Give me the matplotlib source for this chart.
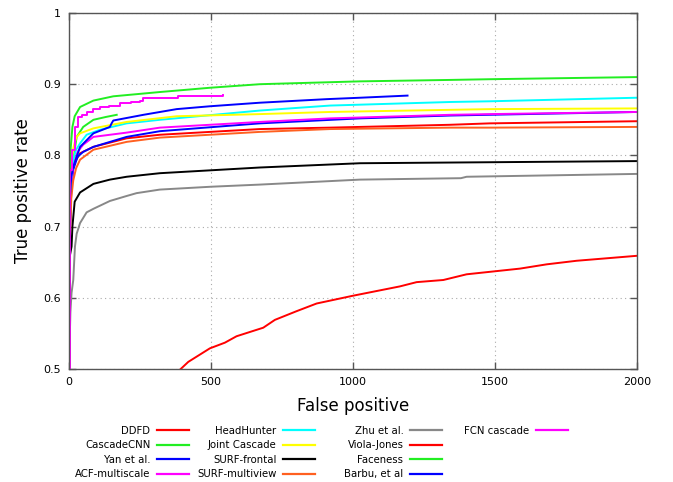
import matplotlib
matplotlib.use("Agg")
import matplotlib.pyplot as plt
from matplotlib.lines import Line2D

# ROC-style curves (false positives vs true positive rate)
ddfd_fp = [0, 2, 5, 10, 20, 39, 86, 203, 320, 672, 919, 1342, 1482, 2000]
ddfd_tpr = [0.5, 0.65, 0.74, 0.775, 0.79, 0.803, 0.812, 0.824, 0.829, 0.837, 0.839, 0.843, 0.845, 0.848]

cascadecnn_fp = [0, 3, 8, 15, 27, 50, 86, 130, 168]
cascadecnn_tpr = [0.5, 0.70, 0.77, 0.794, 0.826, 0.840, 0.850, 0.854, 0.857]

yan_fp = [0, 3, 8, 15, 30, 50, 86, 203, 320, 672, 1025, 1342, 2000]
yan_tpr = [0.5, 0.68, 0.75, 0.78, 0.798, 0.805, 0.812, 0.826, 0.834, 0.845, 0.852, 0.856, 0.861]

acf_fp = [0, 3, 8, 15, 30, 50, 86, 203, 320, 672, 919, 1342, 1482, 2000]
acf_tpr = [0.5, 0.70, 0.76, 0.785, 0.805, 0.815, 0.826, 0.832, 0.839, 0.847, 0.852, 0.857, 0.858, 0.861]

headhunter_fp = [0, 3, 8, 15, 25, 39, 62, 109, 203, 320, 672, 919, 1342, 1482, 2000]
headhunter_tpr = [0.5, 0.70, 0.77, 0.795, 0.808, 0.817, 0.829, 0.836, 0.845, 0.850, 0.863, 0.870, 0.875, 0.876, 0.881]

joint_fp = [0, 3, 8, 15, 20, 27, 39, 86, 203, 379, 672, 919, 1482, 2000]
joint_tpr = [0.5, 0.72, 0.79, 0.81, 0.818, 0.826, 0.831, 0.838, 0.847, 0.855, 0.858, 0.861, 0.865, 0.866]

surf_frontal_fp = [0, 3.5, 9, 12, 20, 39, 86, 144, 203, 320, 672, 1025, 2000]
surf_frontal_tpr = [0.5, 0.66, 0.672, 0.70, 0.735, 0.748, 0.760, 0.766, 0.770, 0.775, 0.783, 0.789, 0.792]

surf_multi_fp = [0, 3, 8, 15, 25, 39, 86, 203, 320, 672, 919, 1342, 1482, 2000]
surf_multi_tpr = [0.5, 0.68, 0.74, 0.765, 0.782, 0.794, 0.808, 0.819, 0.825, 0.833, 0.837, 0.839, 0.839, 0.840]

zhu_fp = [0, 3, 5, 9, 15, 21, 27, 39, 62, 86, 144, 203, 238, 320, 500, 672, 1025, 1380, 1400, 2000]
zhu_tpr = [0.5, 0.55, 0.58, 0.607, 0.625, 0.672, 0.69, 0.705, 0.72, 0.725, 0.736, 0.743, 0.747, 0.752, 0.756, 0.759, 0.766, 0.768, 0.770, 0.774]

viola_fp = [380, 420, 496, 549, 590, 684, 725, 800, 872, 1001, 1165, 1224, 1318, 1400, 1588, 1682, 1787, 2000]
viola_tpr = [0.495, 0.51, 0.529, 0.537, 0.546, 0.558, 0.569, 0.581, 0.592, 0.603, 0.616, 0.622, 0.625, 0.633, 0.641, 0.647, 0.652, 0.659]

faceness_fp = [0, 1, 3, 6, 12, 20, 39, 86, 156, 320, 496, 672, 1025, 1342, 1482, 2000]
faceness_tpr = [0.5, 0.6, 0.75, 0.81, 0.84, 0.855, 0.868, 0.877, 0.883, 0.889, 0.895, 0.900, 0.904, 0.906, 0.907, 0.910]

barbu_fp = [0, 3.5, 8, 15, 39, 86, 144, 150, 156, 262, 379, 496, 672, 907, 1025, 1192]
barbu_tpr = [0.5, 0.742, 0.77, 0.784, 0.812, 0.831, 0.840, 0.845, 0.849, 0.857, 0.865, 0.869, 0.874, 0.879, 0.881, 0.884]

fcn_fp = [0, 2, 5, 10, 20, 33, 45, 62, 85, 109, 140, 180, 220, 250, 260, 385, 541]
fcn_tpr = [0.5, 0.7, 0.78, 0.808, 0.84, 0.854, 0.857, 0.861, 0.865, 0.868, 0.870, 0.873, 0.875, 0.877, 0.881, 0.883, 0.885]

names = ["DDFD", "CascadeCNN", "Yan et al.", "ACF-multiscale", "HeadHunter", "Joint Cascade",
         "SURF-frontal", "SURF-multiview", "Zhu et al.", "Viola-Jones", "Faceness", "Barbu, et al",
         "FCN cascade"]
series = [(ddfd_fp, ddfd_tpr), (cascadecnn_fp, cascadecnn_tpr), (yan_fp, yan_tpr), (acf_fp, acf_tpr),
          (headhunter_fp, headhunter_tpr), (joint_fp, joint_tpr), (surf_frontal_fp, surf_frontal_tpr),
          (surf_multi_fp, surf_multi_tpr), (zhu_fp, zhu_tpr), (viola_fp, viola_tpr),
          (faceness_fp, faceness_tpr), (barbu_fp, barbu_tpr), (fcn_fp, fcn_tpr)]
colors = ["#ff0000", "#22ee22", "#0000ff", "#ff00ff", "#00ffff", "#ffff00",
          "#000000", "#ff6020", "#888888", "#ff0000", "#22ee22", "#0000ff", "#ff00ff"]

fig = plt.figure(figsize=(6.73, 4.82), dpi=100)
ax = fig.add_axes([69 / 673, 1 - 369 / 482, 568 / 673, 356 / 482])

lw = 1.4
for name, (fp, tpr), c in zip(names, series, colors):
    if name == "FCN cascade":
        ax.plot(fp, tpr, color=c, lw=lw, drawstyle="steps-post")
    else:
        ax.plot(fp, tpr, color=c, lw=lw)

ax.set_xlim(0, 2000)
ax.set_ylim(0.5, 1)
ax.set_xticks([0, 500, 1000, 1500, 2000])
ax.set_yticks([0.5, 0.6, 0.7, 0.8, 0.9, 1])
ax.set_yticklabels(["0.5", "0.6", "0.7", "0.8", "0.9", "1"])
ax.grid(True, color="#aaaaaa", linestyle=(0, (1, 3)), lw=0.8)
for s in ax.spines.values():
    s.set_color("#555555")
    s.set_linewidth(1.0)
ax.tick_params(direction="in", length=5, width=1, color="#555555", top=True, right=True,
               labelsize=8, pad=6)
ax.set_xlabel("False positive", fontsize=12, labelpad=7)
ax.set_ylabel("True positive rate", fontsize=12, labelpad=8)

# gnuplot-like key: text then sample, four fixed columns under the plot
handles = [Line2D([], [], color=c, lw=1.6) for c in colors]
col_right = [189, 315, 442, 568]
for i, xr in enumerate(col_right):
    hs = handles[4 * i:4 * i + 4]
    ls = names[4 * i:4 * i + 4]
    fig.legend(hs, ls, loc="upper right", bbox_to_anchor=(xr / 673, 1 - 426 / 482),
               frameon=False, markerfirst=False, fontsize=7.3, handlelength=3.2,
               handletextpad=0.6, labelspacing=0.44, borderpad=0, borderaxespad=0)

fig.savefig("out.png", dpi=100)
